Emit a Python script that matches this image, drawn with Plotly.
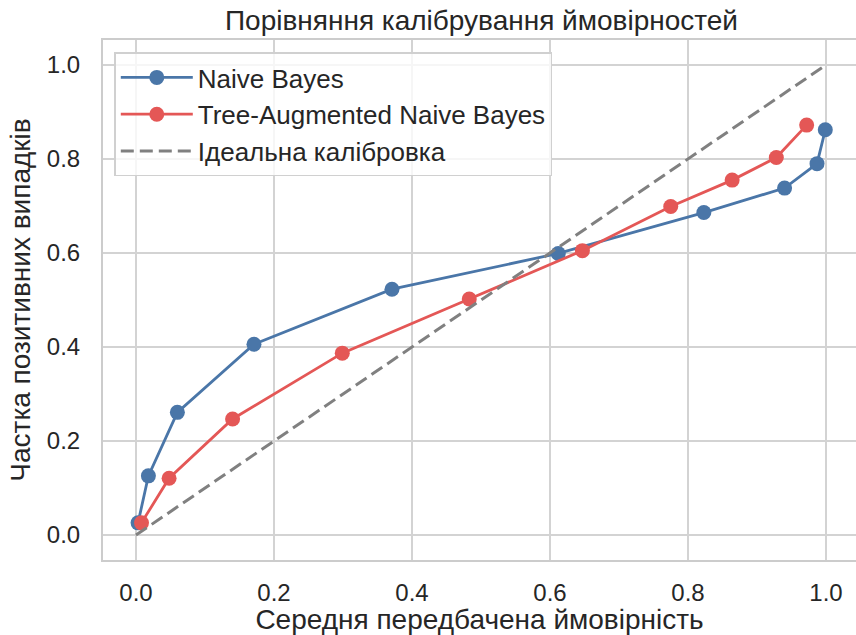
import plotly.graph_objects as go

nb_x = [0.003, 0.018, 0.060, 0.171, 0.371, 0.612, 0.823, 0.940, 0.987, 0.999]
nb_y = [0.026, 0.126, 0.261, 0.406, 0.523, 0.599, 0.686, 0.738, 0.790, 0.862]
tan_x = [0.008, 0.048, 0.140, 0.299, 0.483, 0.647, 0.775, 0.864, 0.928, 0.972]
tan_y = [0.026, 0.121, 0.247, 0.387, 0.502, 0.605, 0.699, 0.755, 0.803, 0.872]
ideal_x = [0.0, 1.0]
ideal_y = [0.0, 1.0]
tick_vals = [0.0, 0.2, 0.4, 0.6, 0.8, 1.0]

BLUE = "#4a76a8"
RED = "#e45756"
TXT = "#262626"
FONT = "Liberation Sans, Arial, sans-serif"

fig = go.Figure()
fig.add_trace(go.Scatter(x=nb_x, y=nb_y, mode="lines+markers", name="Naive Bayes", legendgroup="a",
                         line=dict(color=BLUE, width=2.8), marker=dict(size=15, color=BLUE)))
fig.add_trace(go.Scatter(x=tan_x, y=tan_y, mode="lines+markers", name="Tree-Augmented Naive Bayes",
                         legendgroup="b",
                         line=dict(color=RED, width=2.8), marker=dict(size=15, color=RED)))
fig.add_trace(go.Scatter(x=ideal_x, y=ideal_y, mode="lines", name="Ідеальна калібровка", legendgroup="c",
                         line=dict(color="#808080", width=3, dash="13px,6px")))

fig.update_layout(
    width=856, height=635,
    margin=dict(l=103, r=0, t=40, b=75, autoexpand=False),
    paper_bgcolor="white", plot_bgcolor="white",
    font=dict(family=FONT, size=24, color=TXT),
    title=dict(text="Порівняння калібрування ймовірностей", x=0.5625, xanchor="center",
               y=0.968, yanchor="middle", font=dict(size=28, color=TXT)),
    legend=dict(x=0.015, y=0.976, xanchor="left", yanchor="top",
                bgcolor="rgba(255,255,255,0.8)", bordercolor="#d0d0d0", borderwidth=1.5,
                font=dict(size=26, color=TXT), itemwidth=72, tracegroupgap=0,
                traceorder="grouped"),
    showlegend=True,
)
fig.update_xaxes(range=[-0.0478, 1.0435], tickvals=tick_vals, tickformat=".1f",
                 showgrid=True, gridcolor="#d3d3d3", gridwidth=2,
                 showline=True, linecolor="#cccccc", linewidth=2, mirror=True,
                 zeroline=False, ticks="", ticklen=0, automargin=False,
                 tickfont=dict(size=24), ticklabelstandoff=10,
                 title=dict(text="Середня передбачена ймовірність", font=dict(size=28), standoff=11))
fig.update_yaxes(range=[-0.053, 1.053], tickvals=tick_vals, tickformat=".1f",
                 showgrid=True, gridcolor="#d3d3d3", gridwidth=2,
                 showline=True, linecolor="#cccccc", linewidth=2, mirror=True,
                 zeroline=False, ticks="", ticklen=0, automargin=False,
                 tickfont=dict(size=24), ticklabelstandoff=16,
                 title=dict(text="Частка позитивних випадків", font=dict(size=28), standoff=8))

fig.write_html("out.html", config={"displayModeBar": False},
               post_script="document.body.style.margin='0';document.body.style.overflow='hidden';")
